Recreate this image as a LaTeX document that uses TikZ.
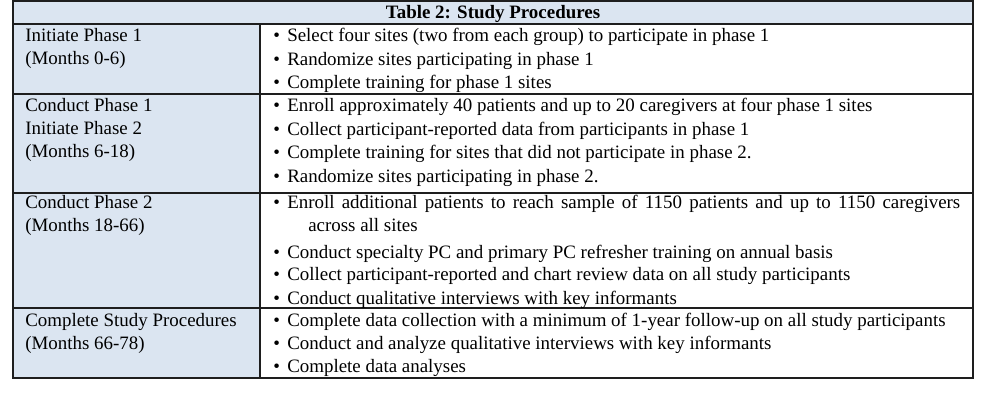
\documentclass[tikz,border=0pt]{standalone}
\usepackage{fontspec}
\setmainfont{Liberation Serif}
\usepackage{xcolor}
\usetikzlibrary{positioning}
\definecolor{cellblue}{RGB}{219,229,241}
\definecolor{rulegray}{RGB}{30,30,30}
\pgfdeclarelayer{nodelayer}
\pgfdeclarelayer{edgelayer}
\pgfsetlayers{nodelayer,edgelayer,main}
\newcommand{\bul}{\makebox[10.5pt][l]{\textbullet}}
\tikzset{
    none/.style = {inner sep=0pt},
    txt/.style = {inner sep=0pt, anchor=base west, font=\fontsize{14.2}{17.25}\selectfont},
    head/.style = {inner sep=0pt, anchor=base, font=\fontsize{14.2}{17.25}\selectfont\bfseries},
    frame/.style = {draw=rulegray, line width=1.8pt},
    rule/.style = {draw=rulegray, line width=1.2pt}
}
\begin{document}
\begin{tikzpicture}[x=0.75pt, y=-0.75pt]
  \useasboundingbox (0, 0) rectangle (987, 409);
  \begin{pgfonlayer}{nodelayer}
    \fill [cellblue] (13, 1) rectangle (973, 24);
    \fill [cellblue] (13, 24) rectangle (260, 378);
  \end{pgfonlayer}
  \begin{pgfonlayer}{edgelayer}
    \draw [style=rule] (13, 24) to (973, 24);
    \draw [style=rule] (13, 94) to (973, 94);
    \draw [style=rule] (13, 193) to (973, 193);
    \draw [style=rule] (13, 308) to (973, 308);
    \draw [style=rule, line width=1.5pt] (260, 24) to (260, 378);
    \draw [style=frame] (13, 1) rectangle (973, 378);
  \end{pgfonlayer}
  \node [style=head] (0) at (493, 19) {Table 2: Study Procedures};
  % phases
  \node [style=txt] (1) at (25, 42) {Initiate Phase 1};
  \node [style=txt] (2) at (25, 65) {(Months 0-6)};
  \node [style=txt] (3) at (25, 112) {Conduct Phase 1};
  \node [style=txt] (4) at (25, 135) {Initiate Phase 2};
  \node [style=txt] (5) at (25, 158) {(Months 6-18)};
  \node [style=txt] (6) at (25, 209) {Conduct Phase 2};
  \node [style=txt] (7) at (25, 232) {(Months 18-66)};
  \node [style=txt] (8) at (25, 326) {Complete Study Procedures};
  \node [style=txt] (9) at (25, 349) {(Months 66-78)};
  % procedures
  \node [style=txt] (10) at (273, 42) {\bul Select four sites (two from each group) to participate in phase 1};
  \node [style=txt] (11) at (273, 66) {\bul Randomize sites participating in phase 1};
  \node [style=txt] (12) at (273, 89) {\bul Complete training for phase 1 sites};
  \node [style=txt] (13) at (273, 112) {\bul Enroll approximately 40 patients and up to 20 caregivers at four phase 1 sites};
  \node [style=txt] (14) at (273, 136) {\bul Collect participant-reported data from participants in phase 1};
  \node [style=txt] (15) at (273, 159) {\bul Complete training for sites that did not participate in phase 2.};
  \node [style=txt] (16) at (273, 183) {\bul Randomize sites participating in phase 2.};
  \node [style=txt] (17) at (273, 209) {\bul\makebox[504.75pt][s]{Enroll additional patients to reach sample of 1150 patients and up to 1150 caregivers}};
  \node [style=txt] (18) at (308, 232) {across all sites};
  \node [style=txt] (19) at (273, 258) {\bul Conduct specialty PC and primary PC refresher training on annual basis};
  \node [style=txt] (20) at (273, 281) {\bul Collect participant-reported and chart review data on all study participants};
  \node [style=txt] (21) at (273, 304) {\bul Conduct qualitative interviews with key informants};
  \node [style=txt] (22) at (273, 326) {\bul Complete data collection with a minimum of 1-year follow-up on all study participants};
  \node [style=txt] (23) at (273, 349) {\bul Conduct and analyze qualitative interviews with key informants};
  \node [style=txt] (24) at (273, 372) {\bul Complete data analyses};
\end{tikzpicture}
\end{document}
